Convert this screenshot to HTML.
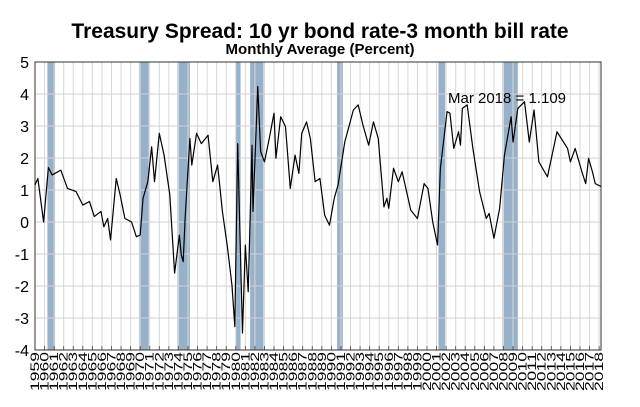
<!DOCTYPE html>
<html><head><meta charset="utf-8"><style>
body{margin:0;background:#fff;font-family:"Liberation Sans",sans-serif}
</style></head><body>
<svg id="c" width="640" height="402" xmlns="http://www.w3.org/2000/svg">
<text x="320" y="38" text-anchor="middle" font-size="21" font-weight="bold">Treasury Spread: 10 yr bond rate-3 month bill rate</text>
<text x="320" y="54" text-anchor="middle" font-size="15" font-weight="bold">Monthly Average (Percent)</text>
<g id="g"></g>
</svg>
<script>
const years=[1959.0,1959.3,1959.9,1960.4,1960.8,1961.7,1962.4,1963.3,1964.0,1964.7,1965.2,1965.9,1966.2,1966.6,1966.9,1967.5,1967.9,1968.4,1969.1,1969.6,1970.0,1970.3,1970.8,1971.2,1971.5,1972.0,1972.5,1973.1,1973.6,1974.1,1974.3,1974.5,1974.7,1975.2,1975.4,1975.9,1976.4,1977.1,1977.6,1978.1,1978.6,1979.1,1979.6,1979.9,1980.2,1980.7,1981.0,1981.3,1981.7,1981.8,1982.3,1982.6,1983.0,1983.5,1984.0,1984.2,1984.7,1985.2,1985.7,1986.2,1986.6,1986.9,1987.4,1987.8,1988.3,1988.8,1989.3,1989.8,1990.3,1990.7,1991.4,1992.3,1992.8,1993.3,1993.9,1994.4,1994.9,1995.5,1995.8,1996.0,1996.5,1997.0,1997.4,1998.3,1999.0,1999.7,2000.1,2000.6,2001.1,2001.4,2002.1,2002.4,2002.8,2003.3,2003.5,2003.7,2004.2,2004.8,2005.5,2006.2,2006.5,2007.0,2007.6,2008.1,2008.8,2009.0,2009.5,2010.2,2010.7,2011.2,2011.7,2012.6,2013.6,2014.7,2015.0,2015.5,2016.2,2016.6,2016.9,2017.3,2017.6,2018.2];
const spread=[1.16,1.36,0.0,1.7,1.47,1.62,1.05,0.95,0.53,0.64,0.17,0.33,-0.15,0.11,-0.56,1.36,0.85,0.11,0.0,-0.46,-0.41,0.74,1.26,2.35,1.26,2.77,2.09,0.85,-1.6,-0.41,-1.03,-1.24,0.11,2.61,1.78,2.77,2.45,2.71,1.26,1.78,0.33,-0.72,-1.97,-3.27,2.45,-3.47,-0.72,-2.18,2.4,0.33,4.23,2.2,1.88,2.61,3.4,1.99,3.29,2.98,1.05,2.09,1.52,2.77,3.13,2.61,1.26,1.36,0.21,-0.1,0.74,1.16,2.5,3.5,3.66,3.03,2.4,3.13,2.61,0.47,0.74,0.43,1.68,1.26,1.57,0.37,0.11,1.2,1.05,0.0,-0.72,1.68,3.45,3.4,2.3,2.82,2.4,3.55,3.66,2.3,0.95,0.11,0.27,-0.51,0.43,2.09,3.29,2.5,3.55,3.76,2.5,3.5,1.88,1.41,2.82,2.3,1.88,2.3,1.57,1.2,1.99,1.57,1.2,1.11];
const recStart=[1960.3,1969.9,1973.9,1980.0,1981.5,1990.6,2001.2,2007.9];
const recEnd=[1961.1,1970.9,1975.2,1980.5,1982.9,1991.2,2001.9,2009.5];
const yTicks=[5,4,3,2,1,0,-1,-2,-3,-4];
const L=35,R=601,T=62,B=350,X0=1959,X1=2018.2;
const xs=v=>L+(v-X0)/(X1-X0)*(R-L);
const ys=v=>T+(5-v)/9*(B-T);
const g=document.getElementById('g');const NS='http://www.w3.org/2000/svg';
function mk(t,a){const e=document.createElementNS(NS,t);for(const k in a)e.setAttribute(k,a[k]);g.appendChild(e);return e;}
for(let i=0;i<recStart.length;i++){
 const e=mk('rect',{x:xs(recStart[i]),y:T,width:xs(recEnd[i])-xs(recStart[i]),height:B-T,fill:'#98b1ca'});
 
 
}
for(let yr=1959;yr<=2018;yr++){
 const x=xs(yr);
 const l=mk('line',{x1:x,x2:x,y1:T,y2:B,stroke:'#d8d8d8','stroke-width':1});
 
 
 mk('line',{x1:x,x2:x,y1:B,y2:B-4,stroke:'#444','stroke-width':0.8});
 const t=mk('text',{x:0,y:0,'font-size':12,textLength:39,lengthAdjust:'spacingAndGlyphs',transform:`translate(${x+4},${B+2}) rotate(-90)`,'text-anchor':'end'});
 t.textContent=yr;
 
 
}
yTicks.forEach(v=>{
 const y=ys(v);
 const l=mk('line',{x1:L,x2:R,y1:y,y2:y,stroke:'#d0d0d0','stroke-width':1});
 
 
 const t=mk('text',{x:29,y:y+6,'font-size':16,'text-anchor':'end'});
 t.textContent=v;
 
 
});
const fr=mk('rect',{x:L,y:T,width:R-L,height:B-T,fill:'none',stroke:'#333','stroke-width':1});


const p=mk('polyline',{points:years.map((yr,i)=>xs(yr)+','+ys(spread[i])).join(' '),fill:'none',stroke:'#000','stroke-width':1.2,'stroke-linejoin':'round'});


const a=mk('text',{x:448,y:103,'font-size':15});
a.textContent='Mar 2018 = 1.109';


</script>
</body></html>
